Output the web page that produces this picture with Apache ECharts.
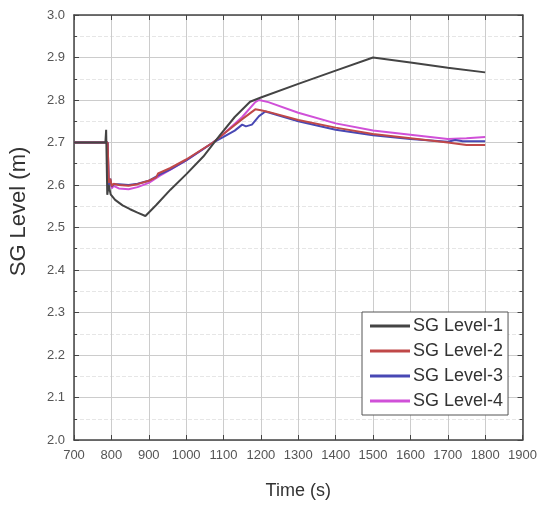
<!DOCTYPE html>
<html>
<head>
<meta charset="utf-8">
<script src="https://cdn.jsdelivr.net/npm/echarts@6/dist/echarts.min.js"></script>
<style>html,body{margin:0;padding:0;background:#fff}#c{width:540px;height:505px}</style>
</head>
<body>
<div id="c"></div>
<script>
const seriesNames = ['SG Level-1', 'SG Level-2', 'SG Level-3', 'SG Level-4'];
const xTicks = [700, 800, 900, 1000, 1100, 1200, 1300, 1400, 1500, 1600, 1700, 1800, 1900];
const yTicks = [2.0, 2.1, 2.2, 2.3, 2.4, 2.5, 2.6, 2.7, 2.8, 2.9, 3.0];

const t1 = [700, 784, 786, 789, 793, 798, 810, 830, 850, 870, 891, 920, 958, 1000, 1046, 1091, 1130, 1171, 1200, 1300, 1400, 1500, 1600, 1700, 1800];
const v1 = [2.70, 2.70, 2.73, 2.577, 2.60, 2.578, 2.565, 2.552, 2.543, 2.535, 2.527, 2.553, 2.589, 2.625, 2.667, 2.718, 2.76, 2.796, 2.806, 2.838, 2.869, 2.90, 2.888, 2.876, 2.865];

const t2 = [700, 790, 793, 797, 801, 806, 820, 846, 870, 900, 920, 925, 958, 1000, 1072, 1100, 1150, 1185, 1200, 1220, 1300, 1400, 1500, 1600, 1700, 1750, 1800];
const v2 = [2.70, 2.70, 2.605, 2.615, 2.597, 2.603, 2.60, 2.598, 2.602, 2.61, 2.618, 2.627, 2.640, 2.660, 2.70, 2.72, 2.755, 2.778, 2.776, 2.772, 2.753, 2.735, 2.72, 2.71, 2.70, 2.694, 2.694];

const t3 = [700, 790, 793, 797, 801, 806, 820, 846, 870, 900, 930, 958, 1000, 1072, 1100, 1130, 1150, 1160, 1176, 1195, 1212, 1300, 1400, 1500, 1600, 1700, 1720, 1740, 1800];
const v3 = [2.70, 2.70, 2.600, 2.615, 2.596, 2.602, 2.602, 2.600, 2.603, 2.61, 2.625, 2.637, 2.658, 2.70, 2.713, 2.728, 2.742, 2.738, 2.742, 2.762, 2.773, 2.75, 2.73, 2.717, 2.708, 2.702, 2.706, 2.703, 2.703];

const t4 = [700, 790, 793, 797, 801, 806, 820, 846, 870, 900, 930, 958, 1000, 1072, 1100, 1150, 1185, 1195, 1220, 1300, 1400, 1500, 1600, 1700, 1750, 1800];
const v4 = [2.70, 2.70, 2.60, 2.612, 2.592, 2.598, 2.592, 2.590, 2.595, 2.605, 2.622, 2.636, 2.658, 2.70, 2.72, 2.76, 2.795, 2.80, 2.795, 2.77, 2.745, 2.728, 2.718, 2.708, 2.71, 2.713];

const colors = ['#444444', '#c04848', '#4848b4', '#d050d8'];
const times = [t1, t2, t3, t4];
const vals = [v1, v2, v3, v4];

const chart = echarts.init(document.getElementById('c'));
const axisLineStyle = { color: '#444', width: 1.5 };
const font = 'Liberation Sans, Arial, sans-serif';

chart.setOption({
  animation: false,
  backgroundColor: '#fff',
  grid: { left: 73, right: 16, top: 15, bottom: 64, containLabel: false },
  legend: {
    data: seriesNames,
    orient: 'vertical',
    left: 362, top: 312,
    itemWidth: 40, itemHeight: 3, itemGap: 7,
    padding: [5, 5, 5, 8],
    borderColor: '#555', borderWidth: 1, backgroundColor: '#fff',
    icon: 'rect',
    textStyle: { fontFamily: font, fontSize: 18, color: '#333', padding: [0, 0, 0, -2] }
  },
  xAxis: [{
    type: 'value', min: xTicks[0], max: xTicks[xTicks.length - 1], interval: 100,
    name: 'Time (s)', nameLocation: 'middle', nameGap: 42,
    nameTextStyle: { fontFamily: font, fontSize: 18, color: '#333' },
    axisLine: { show: true, lineStyle: axisLineStyle },
    axisTick: { show: true, inside: true, length: 5, lineStyle: { color: '#444' } },
    axisLabel: { fontFamily: font, fontSize: 13, color: '#555', margin: 9, formatter: v => String(v) },
    splitLine: { show: true, lineStyle: { color: '#cccccc', width: 1 } }
  }, {
    type: 'value', position: 'top', min: xTicks[0], max: xTicks[xTicks.length - 1], interval: 100,
    axisLine: { show: true, lineStyle: axisLineStyle },
    axisTick: { show: true, inside: true, length: 5, lineStyle: { color: '#444' } },
    axisLabel: { show: false }, splitLine: { show: false }
  }],
  yAxis: [{
    type: 'value', min: yTicks[0], max: yTicks[yTicks.length - 1], interval: 0.1,
    name: 'SG Level (m)', nameLocation: 'middle', nameGap: 44,
    nameTextStyle: { fontFamily: font, fontSize: 22, color: '#333', padding: [0, 0, 0, 32] },
    axisLine: { show: true, lineStyle: axisLineStyle },
    axisTick: { show: true, inside: true, length: 5, lineStyle: { color: '#444' } },
    minorTick: { show: true, splitNumber: 2, length: 3, lineStyle: { color: '#444' } },
    axisLabel: { fontFamily: font, fontSize: 13, color: '#555', margin: 9, formatter: v => v.toFixed(1) },
    splitLine: { show: true, lineStyle: { color: '#cccccc', width: 1 } },
    minorSplitLine: { show: true, lineStyle: { color: '#e6e6e6', type: 'dashed' } }
  }, {
    type: 'value', position: 'right', min: yTicks[0], max: yTicks[yTicks.length - 1], interval: 0.1,
    axisLine: { show: true, lineStyle: axisLineStyle },
    axisTick: { show: true, inside: true, length: 5, lineStyle: { color: '#444' } },
    minorTick: { show: true, splitNumber: 2, length: 3, lineStyle: { color: '#444' } },
    axisLabel: { show: false }, splitLine: { show: false }
  }],
  series: seriesNames.map((n, i) => ({
    name: n, type: 'line', showSymbol: false, symbol: 'none',
    data: times[i].map((t, j) => [t, vals[i][j]]),
    lineStyle: { color: colors[i], width: 2 },
    itemStyle: { color: colors[i] },
    z: 10 - i
  }))
});
</script>
</body>
</html>
